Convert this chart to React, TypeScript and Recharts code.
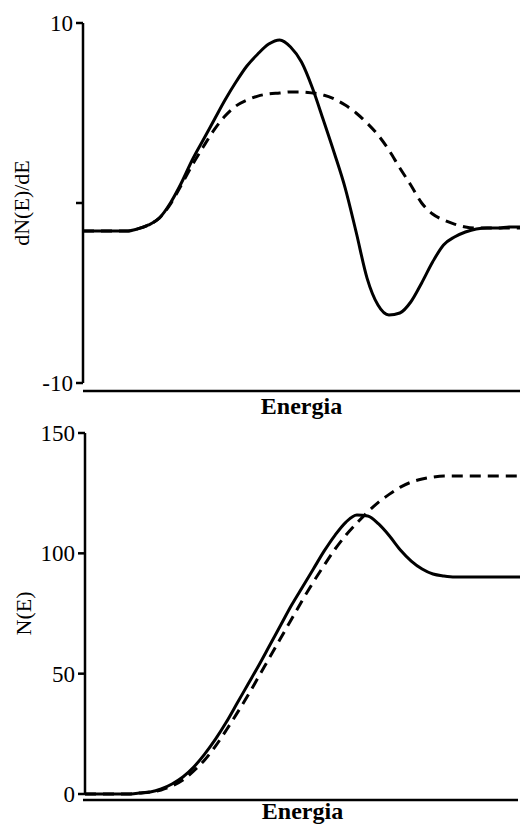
import React from 'react';
import { LineChart, Line, XAxis, YAxis } from 'recharts';

// Energy grid (arbitrary units, 0–100)
const energy = [
  0, 2.5, 5, 7.5, 10, 12.5, 15, 17.5, 20, 22.5, 25, 27.5, 30, 32.5, 35, 37.5, 40,
  42.5, 45, 47.5, 50, 52.5, 55, 57.5, 60, 62.5, 65, 67.5, 70, 72.5, 75, 77.5, 80,
  82.5, 85, 87.5, 90, 92.5, 95, 97.5, 100,
];

// Derivative spectrum dN(E)/dE
const derivSolid = [
  -1.56, -1.56, -1.56, -1.56, -1.56, -1.44, -1.22, -0.83, 0, 1.11, 2.39, 3.5, 4.61,
  5.72, 6.72, 7.61, 8.28, 8.83, 9.06, 8.67, 7.83, 6.39, 4.61, 2.78, 0.83, -1.61,
  -4.17, -5.67, -6.22, -6.11, -5.5, -4.44, -3.28, -2.33, -1.89, -1.61, -1.44, -1.39,
  -1.39, -1.33, -1.33,
];
const derivDashed = [
  -1.56, -1.56, -1.56, -1.56, -1.56, -1.44, -1.22, -0.83, -0.06, 1.0, 2.11, 3.11,
  4.06, 4.83, 5.39, 5.72, 5.94, 6.06, 6.11, 6.17, 6.17, 6.11, 6.0, 5.78, 5.44, 5.0,
  4.44, 3.78, 2.94, 1.94, 1.0, 0, -0.61, -0.94, -1.17, -1.33, -1.39, -1.39, -1.39,
  -1.39, -1.39,
];

// Integral spectrum N(E)
const countSolid = [
  0, 0, 0, 0, 0, 0.42, 0.83, 2.08, 4.15, 7.06, 11.2, 16.6, 22.8, 29.9, 37.8, 45.7,
  53.6, 61.9, 70.2, 78.5, 86.0, 93.5, 101, 107.6, 113, 115.9, 115.5, 112.2, 107.2,
  101.4, 96.8, 93.5, 91.4, 90.6, 90.2, 90.2, 90.2, 90.2, 90.2, 90.2, 90.2,
];
const countDashed = [
  0, 0, 0, 0, 0, 0.42, 0.83, 1.66, 3.32, 5.8, 9.6, 14.1, 19.9, 26.6, 33.7, 41.1, 49.0,
  56.9, 64.8, 72.7, 80.6, 88.1, 95.1, 101.8, 107.6, 112.6, 117.2, 121.3, 124.6,
  127.5, 129.6, 130.9, 131.7, 132.1, 132.1, 132.1, 132.1, 132.1, 132.1, 132.1, 132.1,
];

const derivTicks = [-10, 0, 10];
const countTicks = [0, 50, 100, 150];

const derivData = energy.map((e, i) => ({ e, solid: derivSolid[i], dashed: derivDashed[i] }));
const countData = energy.map((e, i) => ({ e, solid: countSolid[i], dashed: countDashed[i] }));

const FONT = '"Liberation Serif", "Times New Roman", serif';
const axisStroke = { stroke: '#000', strokeWidth: 2.5 };
const xLabelStyle = { fontFamily: FONT, fontSize: 24, fontWeight: 'bold', fill: '#000' };
const yLabelStyle = { fontFamily: FONT, fontSize: 22, fill: '#000' };

// Serif tick label; the zero tick of the derivative axis carries no label
function SerifTick(props: any) {
  const { x, y, payload, hideZero } = props;
  if (hideZero && payload.value === 0) return null;
  return (
    <text x={x} y={y} dy={8} textAnchor="end" fontFamily={FONT} fontSize={23} fill="#000">
      {String(payload.value)}
    </text>
  );
}

export default function App() {
  return (
    <div
      style={{
        position: 'absolute',
        left: 0,
        top: 0,
        width: 520,
        height: 829,
        background: '#fff',
        fontFamily: FONT,
      }}
    >
      <div style={{ position: 'absolute', left: 0, top: 0 }}>
        <LineChart
          width={520}
          height={425}
          data={derivData}
          margin={{ top: 23, right: 0, left: 0, bottom: 0 }}
        >
          <XAxis
            dataKey="e"
            type="number"
            domain={[0, 100]}
            tick={false}
            tickLine={false}
            height={42}
            axisLine={{ ...axisStroke, transform: 'translate(0 8)' }}
            label={{ value: 'Energia', position: 'insideBottom', offset: 11, style: xLabelStyle }}
          />
          <YAxis
            type="number"
            domain={[-10, 10]}
            ticks={derivTicks}
            width={83}
            tickSize={7}
            tickMargin={3}
            tick={(p: any) => <SerifTick {...p} hideZero />}
            tickLine={axisStroke}
            axisLine={axisStroke}
            label={{ value: 'dN(E)/dE', angle: -90, position: 'center', dx: -20, style: yLabelStyle }}
          />
          <Line
            dataKey="dashed"
            type="monotone"
            stroke="#000"
            strokeWidth={3}
            strokeDasharray="11 7"
            dot={false}
            isAnimationActive={false}
          />
          <Line
            dataKey="solid"
            type="monotone"
            stroke="#000"
            strokeWidth={3}
            dot={false}
            isAnimationActive={false}
          />
        </LineChart>
      </div>
      <div style={{ position: 'absolute', left: 0, top: 400 }}>
        <LineChart
          width={520}
          height={429}
          data={countData}
          margin={{ top: 33, right: 0, left: 0, bottom: 0 }}
        >
          <XAxis
            dataKey="e"
            type="number"
            domain={[0, 100]}
            tick={false}
            tickLine={false}
            height={35}
            axisLine={{ ...axisStroke, transform: 'translate(-2 6)' }}
            label={{ value: 'Energia', position: 'insideBottom', offset: 10, style: xLabelStyle }}
          />
          <YAxis
            type="number"
            domain={[0, 150]}
            ticks={countTicks}
            width={85}
            tickSize={7}
            tickMargin={3}
            tick={(p: any) => <SerifTick {...p} />}
            tickLine={axisStroke}
            axisLine={axisStroke}
            label={{ value: 'N(E)', angle: -90, position: 'center', dx: -19, style: yLabelStyle }}
          />
          <Line
            dataKey="dashed"
            type="monotone"
            stroke="#000"
            strokeWidth={3}
            strokeDasharray="11 7"
            dot={false}
            isAnimationActive={false}
          />
          <Line
            dataKey="solid"
            type="monotone"
            stroke="#000"
            strokeWidth={3}
            dot={false}
            isAnimationActive={false}
          />
        </LineChart>
      </div>
    </div>
  );
}
